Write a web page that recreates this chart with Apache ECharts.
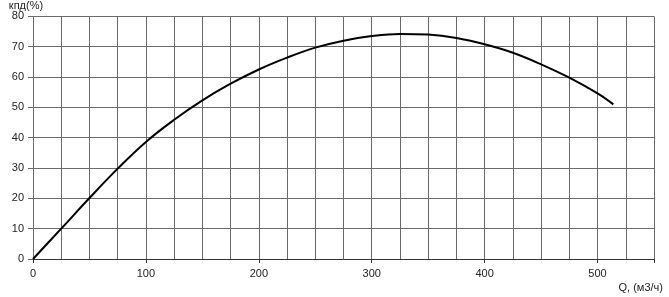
<!DOCTYPE html>
<html>
<head>
<meta charset="utf-8">
<script src="https://cdn.jsdelivr.net/npm/echarts@6/dist/echarts.min.js"></script>
<style>
html,body{margin:0;padding:0;background:#fff;}
#c{width:669px;height:297px;}
</style>
</head>
<body>
<div id="c"></div>
<script>
const flowQ = [0, 25, 50, 75, 100, 125, 150, 175, 200, 225, 250, 275, 300, 325, 350, 375, 400, 425, 450, 475, 500, 514];
const efficiency = [0, 10, 20.1, 29.8, 38.6, 45.9, 52.3, 57.8, 62.5, 66.4, 69.7, 72.0, 73.5, 74.2, 74.0, 72.9, 70.8, 68.0, 64.2, 59.8, 54.6, 51.0];
const xName = 'Q, (м3/ч)';
const yName = 'кпд(%)';

const chart = echarts.init(document.getElementById('c'), null, {renderer: 'canvas'});
const font = 'Liberation Sans, Arial, sans-serif';
const gridColor = '#6a6a6a';
chart.setOption({
  animation: false,
  grid: {left: 33, right: 15, top: 16, bottom: 38, containLabel: false},
  xAxis: [{
    type: 'value', min: 0, max: 550, interval: 25,
    name: xName, nameLocation: 'end', nameGap: 9,
    nameTextStyle: {fontFamily: font, fontSize: 11, color: '#222', align: 'right', verticalAlign: 'top', padding: [23, 0, 0, 0]},
    axisLine: {show: true, lineStyle: {color: '#333', width: 1}},
    axisTick: {show: false},
    axisLabel: {show: false},
    splitLine: {show: true, lineStyle: {color: gridColor, width: 1}}
  }, {
    type: 'value', min: 0, max: 550, interval: 100, position: 'bottom',
    axisLine: {show: false},
    axisTick: {show: true, length: 4, lineStyle: {color: '#333'}},
    axisLabel: {show: true, margin: 9, fontFamily: font, fontSize: 11, color: '#222',
      formatter: v => (v % 100 === 0 ? String(v) : '')},
    splitLine: {show: false}
  }],
  yAxis: {
    type: 'value', min: 0, max: 80, interval: 10,
    name: yName, nameLocation: 'end', nameGap: 3,
    nameTextStyle: {fontFamily: font, fontSize: 11, color: '#222', align: 'center', padding: [0, 14, 0, 0]},
    axisLine: {show: false},
    axisTick: {show: true, length: 5, lineStyle: {color: gridColor}},
    axisLabel: {margin: 9, fontFamily: font, fontSize: 11, color: '#222'},
    splitLine: {show: true, lineStyle: {color: gridColor, width: 1}}
  },
  series: [{
    type: 'line',
    xAxisIndex: 0,
    data: flowQ.map((q, i) => [q, efficiency[i]]),
    smooth: 0.4,
    showSymbol: false,
    lineStyle: {color: '#000', width: 2}
  }]
});
</script>
</body>
</html>
